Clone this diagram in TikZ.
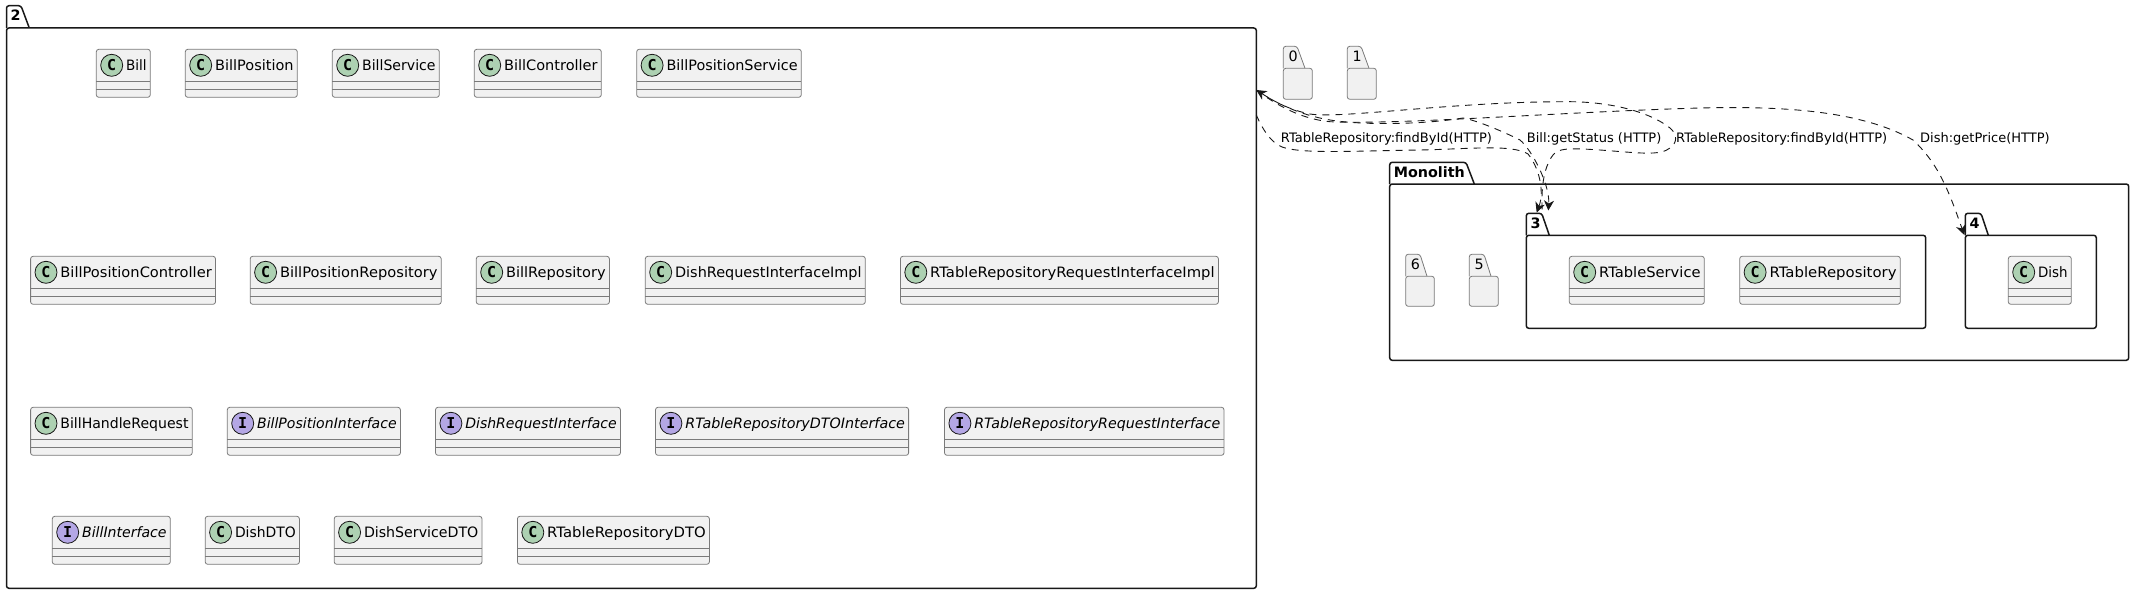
\documentclass[tikz,border=0pt]{standalone}
\usepackage{graphicx}
\usepackage{fontspec}
\setmainfont{DejaVu Sans}
\newfontfamily\spotfont{DejaVu Sans Mono}
\usetikzlibrary{arrows.meta}
\definecolor{umlgrey}{HTML}{F1F1F1}
\definecolor{umlline}{HTML}{181818}
\definecolor{umlspotC}{HTML}{ADD1B2}
\definecolor{umlspotI}{HTML}{B4A7E5}
\tikzset{
  classbox/.style={draw=black!52,fill=umlgrey,line width=0.8pt,rounded corners=2.5pt,inner sep=0pt,outer sep=0pt},
  classline/.style={draw=black!52,line width=0.8pt},
  spotC/.style={circle,draw=umlline,fill=umlspotC,line width=0.8pt,minimum size=22pt,inner sep=0pt,font=\fontsize{15}{17}\spotfont\bfseries},
  spotI/.style={spotC,fill=umlspotI},
  nameC/.style={inner sep=0pt,font=\fontsize{14.3}{17}\selectfont},
  nameI/.style={nameC,font=\fontsize{14.3}{17}\selectfont\itshape},
  pkgbold/.style={draw=umlline,fill=white,line width=1.5pt,rounded corners=2.5pt,inner sep=0pt,outer sep=0pt},
  pkgthin/.style={draw=black!52,fill=umlgrey,line width=0.8pt,rounded corners=2.5pt,inner sep=0pt,outer sep=0pt},
  pkgname/.style={inner sep=0pt,anchor=base west,font=\fontsize{14.3}{17}\selectfont\bfseries},
  pkgnamethin/.style={inner sep=0pt,anchor=base west,font=\fontsize{14.3}{17}\selectfont},
  dep/.style={umlline,line width=0.9pt,dash pattern=on 7pt off 6pt},
  depend/.style={-{Stealth[length=10pt,width=10pt,inset=3pt]}},
  depstart/.style={{Stealth[length=10pt,width=10pt,inset=3pt]}-},
  deplabel/.style={inner sep=0pt,anchor=base west,font=\fontsize{13}{15}\selectfont}
}
\begin{document}
\begin{tikzpicture}[x=1pt,y=-1pt]
\useasboundingbox (0,0) rectangle (2134,594);
\foreach \nm/\xa/\xb/\yt/\yb/\ye/\xt/\xs/\lab in {
  pkgtwo/6.5/1256.3/5.7/28/588.3/21/29.3/2,
  pkgmono/1389.7/2128.7/162.3/184/360.3/1466/1474.3/Monolith,
  pkgthree/1526.3/1925.7/213.3/235.3/328.3/1541.7/1549.3/3,
  pkgfour/1965.3/2096.3/213.3/235.3/328.3/1981/1988.3/4}{
    \draw[pkgbold] (\xa,\yb) |- (\xt,\yt) -- (\xs,\yb);
    \node[pkgbold,anchor=north west,minimum width={(\xb-\xa)*1pt},minimum height={(\ye-\yb)*1pt}] (\nm) at (\xa,\yb) {};
    \node[pkgname] (\nm-name) at (\xa+4,\yt+15.3) {\lab};
    }
\foreach \nm/\xa/\xb/\yt/\yb/\ye/\xt/\xs/\lab in {
  pkgzero/1283.3/1312.3/46.3/68.3/99.3/1297/1305/0,
  pkgone/1347.3/1376.3/46.3/68.3/99.3/1361/1369/1,
  pkgsix/1405.7/1434.3/254.3/276.3/306.3/1420/1427/6,
  pkgfive/1469.3/1498.3/254.3/276.3/306.3/1484/1491/5}{
    \draw[pkgthin] (\xa,\yb) |- (\xt,\yt) -- (\xs,\yb);
    \node[pkgthin,anchor=north west,minimum width={(\xb-\xa)*1pt},minimum height={(\ye-\yb)*1pt}] (\nm) at (\xa,\yb) {};
    \node[pkgnamethin] (\nm-name) at (\xa+5,\yt+15.3) {\lab};
    }
\foreach \nm/\xa/\xb/\y/\kind in {
  Bill/96.3/150.3/49.3/C, BillPosition/185.3/297.3/49.3/C, BillService/332.3/439.3/49.3/C,
  BillController/474.3/601.3/49.3/C, BillPositionService/636.7/801.3/49.3/C,
  BillPositionController/30.6/215.5/256.3/C, BillPositionRepository/250.2/441.2/256.3/C,
  BillRepository/476.3/609.4/256.3/C, DishRequestInterfaceImpl/645.3/865.3/256.3/C,
  RTableRepositoryRequestInterfaceImpl/900.4/1218.4/256.3/C,
  BillHandleRequest/30.6/192.2/407.3/C, BillPositionInterface/227.3/400.4/407.3/I,
  DishRequestInterface/435.5/620.4/407.3/I, RTableRepositoryDTOInterface/655.5/908.6/407.3/I,
  RTableRepositoryRequestInterface/944.5/1224/407.3/I,
  BillInterface/52.3/170.3/516.3/I, DishDTO/205.2/299.4/516.3/C,
  DishServiceDTO/334.2/482/516.3/C, RTableRepositoryDTO/517.4/709.4/516.3/C,
  RTableService/1569.3/1704.3/256.3/C, RTableRepository/1739.7/1900.3/256.3/C,
  Dish/2008.3/2071.3/256.3/C}{
    \node[classbox,anchor=north west,minimum width={(\xb-\xa)*1pt},minimum height=48pt] (\nm) at (\xa,\y) {};
    \draw[classline] ([yshift=-32pt]\nm.north west) -- ([yshift=-32pt]\nm.north east);
    \draw[classline] ([yshift=-40pt]\nm.north west) -- ([yshift=-40pt]\nm.north east);
    \node[spot\kind] (\nm-spot) at (\xa+15.4,\y+16) {\kind};
    % text fills the box as in the original
    \pgfmathsetmacro{\textwd}{\xb-\xa-33.5}
    \node[name\kind,anchor=base west] (\nm-name) at (\xa+29.6,\y+21.3) {\resizebox{\textwd pt}{\height}{\nm}};
    }
\coordinate (twoA) at ([yshift=-87pt]pkgtwo.north east);
\coordinate (twoB) at ([yshift=-62pt]pkgtwo.north east);
\coordinate (threeA) at (1536.7,212.5);
\coordinate (threeB) at (1548.3,210.5);
\coordinate (threeC) at (1542.3,213);
\coordinate (fourA) at (1964.3,235);
\draw[dep,depend] (twoA) .. controls (1262,128) and (1270,142) .. (1282,147) .. controls (1302,154) and (1350,151) .. (1420,150) .. controls (1470,149) and (1512,144) .. (1528,154) .. controls (1538,166) and (1545,190) .. (threeA);
\draw[dep,depend] (twoB) .. controls (1275,103) and (1300,115) .. (1330,120) .. controls (1360,125) and (1420,125) .. (1463,118) .. controls (1475,120) and (1500,130) .. (1520,140) .. controls (1532,150) and (1550,185) .. (threeB);
\draw[dep,depstart] (twoB) .. controls (1275,102) and (1290,110) .. (1310,114) .. controls (1340,119) and (1450,102) .. (1563,101.7) .. controls (1610,101) and (1650,112) .. (1670,128) .. controls (1678,135) and (1677,143) .. (1670,148) .. controls (1660,156) and (1640,153) .. (1600,150) .. controls (1570,148) and (1558,148) .. (1553,155) .. controls (1543,168) and (1541,190) .. (threeC);
\draw[dep,depend] (twoB) .. controls (1275,104) and (1300,119) .. (1330,121.7) .. controls (1400,125) and (1560,112) .. (1700,108) .. controls (1780,106) and (1860,110) .. (1913,140) .. controls (1940,165) and (1950,195) .. (fourA);
\node[deplabel] (labelRepoOne) at (1280.7,142.7) {RTableRepository:findById(HTTP)};
\node[deplabel] (labelStatus) at (1526.7,142.7) {Bill:getStatus (HTTP)};
\node[deplabel] (labelRepoTwo) at (1676,142.7) {RTableRepository:findById(HTTP)};
\node[deplabel] (labelPrice) at (1920,142.7) {Dish:getPrice(HTTP)};
\end{tikzpicture}
\end{document}
